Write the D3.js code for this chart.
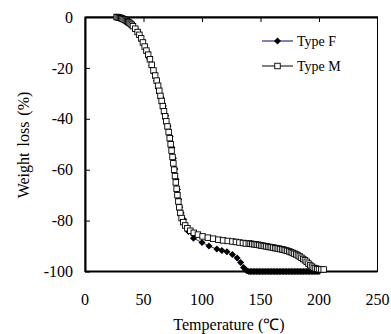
<!DOCTYPE html>
<html><head><meta charset="utf-8">
<script src="https://cdn.jsdelivr.net/npm/d3@7"></script>
<style>body{margin:0;background:#fff}svg{display:block}text{font-family:"Liberation Serif","Times New Roman",serif;fill:#000}</style>
</head><body><div id="c"></div>
<script>
// Type F: [temperature (°C), weight loss (%)]
const typeF = [[27,0],[29,-0.2],[31,-0.5],[33,-0.9],[35,-1.4],[37,-2.0],[39,-2.7],[41,-3.6],[43,-4.6],[45,-5.8],
 [47,-7.4],[49,-9.3],[51,-11.4],[53,-13.8],[55,-16.4],[57,-19.2],[59,-22.0],[61,-25.0],[63,-28.2],[65,-31.5],
 [67,-35.0],[69,-38.8],[71,-42.8],[72.8,-47],[74.3,-51.3],[75.6,-55.5],[76.8,-59.7],[77.9,-63.8],[79,-67.8],[80,-71.6],
 [81,-74.8],[82.2,-77.0],[84.2,-79.5],[86,-82],[88.4,-84.3],[92.7,-86.9],[100,-88.6],[106,-90],[112.7,-91.2],[117,-91.7],
 [121.3,-92.2],[126,-93.3],[130,-94.7],[133,-96.5],[135.5,-98.4],[137,-99.2],[138.4,-99.7],[140,-100],[141.3,-100],[142.6,-100],
 [143.9,-100],[145.2,-100],[146.5,-100],[147.8,-100],[149.1,-100],[150.4,-100],[151.7,-100],[153,-100],[154.3,-100],[155.6,-100],
 [156.9,-100],[158.2,-100],[159.5,-100],[160.8,-100],[162.1,-100],[163.4,-100],[164.7,-100],[166,-100],[167.3,-100],[168.6,-100],
 [169.9,-100],[171.2,-100],[172.5,-100],[173.8,-100],[175.1,-100],[176.4,-100],[177.7,-100],[179,-100],[180.3,-100],[181.6,-100],
 [182.9,-100],[184.2,-100],[185.5,-100],[186.8,-100],[188.1,-100],[189.4,-100],[190.7,-100],[192,-100],[193.3,-100],[194.6,-100],
 [195.9,-100],[197.2,-100],[198.5,-100],[200,-100]];
// Type M: [temperature (°C), weight loss (%)]
const typeM = [[27,0],[28,-0.1],[29,-0.2],[30,-0.3],[31,-0.5],[32,-0.7],[33,-0.9],[34,-1.1],[35,-1.4],[36,-1.7],
 [37,-2.0],[38,-2.3],[39,-2.7],[40,-3.1],[41,-3.6],[43,-4.6],[45,-5.9],[46.5,-7.0],[48,-8.4],[49.5,-10.0],
 [51,-11.6],[52.5,-13.2],[54,-14.8],[55.5,-16.6],[57,-18.8],[58.5,-21.0],[60,-23.0],[61.3,-25.0],[62.5,-27.0],[63.5,-29.0],
 [64.5,-31.0],[65.5,-33.0],[66.5,-35.0],[67.5,-37.0],[68.5,-39.0],[69.5,-41.0],[70.5,-43.0],[71.5,-45.2],[72.4,-47.6],[73.2,-50.0],
 [74,-52.5],[74.8,-55.0],[75.5,-57.5],[76.2,-60.0],[76.9,-62.5],[77.6,-65.0],[78.3,-67.5],[79,-70.0],[79.8,-72.5],[80.6,-74.8],
 [81.5,-77.0],[82.6,-79.0],[84,-80.6],[85.6,-81.9],[87.5,-83.0],[90,-84.0],[93,-84.8],[96.5,-85.5],[100.5,-86.2],[105,-86.7],
 [109.5,-87.1],[114,-87.5],[118,-87.8],[122,-88.0],[126,-88.2],[129,-88.4],[132,-88.6],[135,-88.8],[137.5,-89.0],[140,-89.0],
 [141.5,-89.1],[143,-89.2],[144.5,-89.3],[146,-89.4],[147.5,-89.5],[149,-89.6],[150.5,-89.8],[152,-89.9],[153.5,-90.0],[155,-90.1],
 [156.5,-90.3],[158,-90.4],[159.5,-90.5],[161,-90.6],[162.5,-90.8],[164,-90.9],[165.5,-91.0],[167,-91.2],[168.5,-91.3],[170,-91.5],
 [171.5,-91.7],[173,-91.9],[174.5,-92.1],[176,-92.4],[177.5,-92.7],[179,-93.0],[180.5,-93.3],[182,-93.7],[183.5,-94.1],[185,-94.6],
 [186.5,-95.1],[188,-95.6],[189.5,-96.2],[191,-96.9],[192.5,-97.6],[194,-98.1],[195.5,-98.6],[197,-98.8],[198.5,-99.0],[200,-99.1],
 [202,-99.2],[204,-99.2]];
const xTicks = [0,50,100,150,200,250];
const yTicks = [0,-20,-40,-60,-80,-100];
const seriesNames = ["Type F","Type M"];

const W=391,H=334;
const svg=d3.select("#c").append("svg").attr("width",W).attr("height",H);
const x=d3.scaleLinear().domain([0,250]).range([85,377.5]);
const y=d3.scaleLinear().domain([0,-100]).range([17,271.5]);
const FF='"Liberation Serif","Times New Roman",serif';

// plot border
svg.append("rect").attr("x",x(0)).attr("y",y(0)).attr("width",x(250)-x(0)).attr("height",y(-100)-y(0))
  .attr("fill","none").attr("stroke","#000").attr("stroke-width",1);

// left axis (ticks inward)
const ya=svg.append("g").attr("transform",`translate(${x(0)},0)`)
  .call(d3.axisLeft(y).tickValues(yTicks).tickSizeInner(-5).tickSizeOuter(0).tickPadding(12).tickFormat(d=>d));
ya.select(".domain").attr("stroke-width",2);
ya.attr("font-family",FF);
ya.selectAll("text").attr("font-size",16).attr("x",-12);
// top axis line with inward ticks
const xa=svg.append("g").attr("transform",`translate(0,${y(0)})`)
  .call(d3.axisTop(x).tickValues(xTicks.slice(1,-1)).tickSizeInner(-5).tickSizeOuter(0).tickFormat(""));
xa.select(".domain").attr("stroke-width",2);
// bottom line and labels
svg.append("line").attr("x1",x(0)).attr("x2",x(250)).attr("y1",y(-100)).attr("y2",y(-100)).attr("stroke","#000").attr("stroke-width",2);
svg.append("g").selectAll("text").data(xTicks).join("text")
  .attr("x",d=>x(d)).attr("y",305).attr("text-anchor","middle").attr("font-size",16).text(d=>d);

// titles
svg.append("text").attr("x",229).attr("y",330).attr("text-anchor","middle").attr("font-size",16).text("Temperature (℃)");
svg.append("text").attr("transform","translate(29,145) rotate(-90)").attr("text-anchor","middle").attr("font-size",16).attr("word-spacing",2).text("Weight loss (%)");

const line=d3.line().x(d=>x(d[0])).y(d=>y(d[1]));
// rotated-square diamond marker
const rhombus={draw(ctx,size){const r=Math.sqrt(size)/2;ctx.moveTo(0,-r);ctx.lineTo(r,0);ctx.lineTo(0,r);ctx.lineTo(-r,0);ctx.closePath();}};
const diamond=d3.symbol().type(rhombus).size(49);
const sq=5.5;

// Type F
svg.append("path").datum(typeF).attr("d",line).attr("fill","none").attr("stroke","#000080").attr("stroke-width",0.8);
svg.append("g").selectAll("path").data(typeF).join("path").attr("d",diamond)
  .attr("transform",d=>`translate(${x(d[0])},${y(d[1])})`).attr("fill","#000");
// Type M
svg.append("path").datum(typeM).attr("d",line).attr("fill","none").attr("stroke","#000").attr("stroke-width",0.8);
svg.append("g").selectAll("rect").data(typeM).join("rect")
  .attr("x",d=>x(d[0])-sq/2).attr("y",d=>y(d[1])-sq/2).attr("width",sq).attr("height",sq)
  .attr("fill","#fff").attr("stroke","#000").attr("stroke-width",0.9);

// legend
const lg=svg.append("g");
[41,66].forEach((ly,i)=>{
  lg.append("line").attr("x1",262).attr("x2",293).attr("y1",ly).attr("y2",ly).attr("stroke",i?"#000":"#000080").attr("stroke-width",1);
  if(i===0) lg.append("path").attr("d",diamond).attr("transform",`translate(277.5,${ly})`).attr("fill","#000");
  else lg.append("rect").attr("x",277.5-sq/2).attr("y",ly-sq/2).attr("width",sq).attr("height",sq).attr("fill","#fff").attr("stroke","#000").attr("stroke-width",0.9);
  lg.append("text").attr("x",297).attr("y",ly+5).attr("font-size",14).text(seriesNames[i]);
});
</script></body></html>
